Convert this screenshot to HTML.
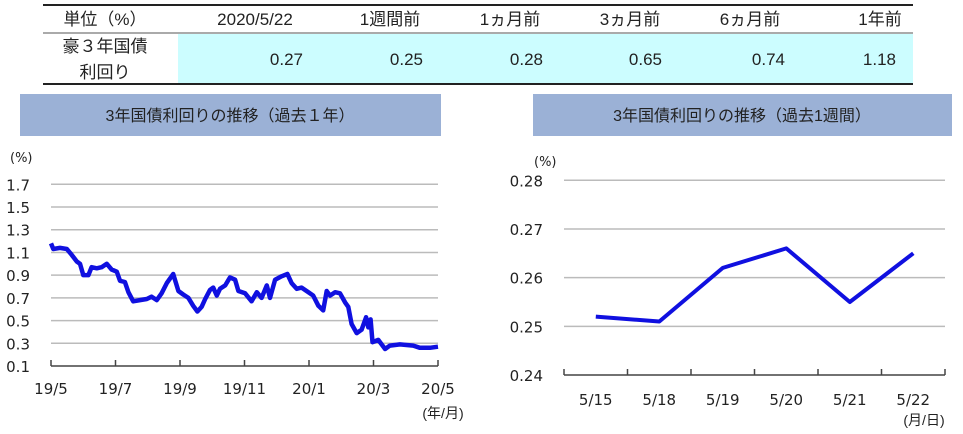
<!DOCTYPE html>
<html><head><meta charset="utf-8">
<style>
body{margin:0;width:963px;height:434px;background:#fff;overflow:hidden;font-family:"Liberation Sans","Noto Sans CJK JP",sans-serif;}
svg{position:absolute;left:0;top:0}
text{font-family:"Liberation Sans","Noto Sans CJK JP",sans-serif;fill:#222}
.v{font-family:"DejaVu Sans","Noto Sans CJK JP",sans-serif}
</style></head><body>
<svg id="s" width="963" height="434">
<g>
<rect x="178" y="34" width="735" height="49" fill="#ccfdff"/>
<line x1="43" y1="5" x2="913" y2="5" stroke="#222" stroke-width="2"/>
<line x1="43" y1="33" x2="913" y2="33" stroke="#555" stroke-width="1"/>
<line x1="43" y1="84" x2="913" y2="84" stroke="#222" stroke-width="2"/>
<g font-size="17" text-anchor="middle">
<text x="105" y="25">単位（%）</text>
<text x="255" y="25">2020/5/22</text>
<text x="390" y="25">1週間前</text>
<text x="510" y="25">1ヵ月前</text>
<text x="630" y="25">3ヵ月前</text>
<text x="750" y="25">6ヵ月前</text>
<text x="880" y="25">1年前</text>
<text x="105" y="52">豪３年国債</text>
<text x="105" y="78">利回り</text>
</g>
<g font-size="17" text-anchor="end">
<text x="303" y="65">0.27</text>
<text x="423" y="65">0.25</text>
<text x="543" y="65">0.28</text>
<text x="662" y="65">0.65</text>
<text x="785" y="65">0.74</text>
<text x="896" y="65">1.18</text>
</g>
</g>
<rect x="20" y="94" width="421" height="42" fill="#9bb1d6"/>
<text x="230" y="121" font-size="16" text-anchor="middle">3年国債利回りの推移（過去１年）</text>
<rect x="533" y="94" width="419" height="42" fill="#9bb1d6"/>
<text x="742" y="121" font-size="16" text-anchor="middle">3年国債利回りの推移（過去1週間）</text>
<g id="left"></g>
<g id="right"></g>
</svg>
<script>
// yearly chart data (months since 2019/5)
const yMonths=[0,0.07,0.28,0.49,0.64,0.80,0.90,1.0,1.16,1.26,1.42,1.57,1.73,1.88,2.04,2.14,2.29,2.40,2.55,2.76,2.97,3.12,3.28,3.43,3.59,3.69,3.79,3.95,4.10,4.26,4.41,4.54,4.67,4.78,4.93,5.03,5.14,5.24,5.40,5.55,5.71,5.81,6.02,6.22,6.38,6.53,6.69,6.79,6.95,7.15,7.33,7.46,7.62,7.77,7.98,8.13,8.29,8.44,8.55,8.65,8.81,8.96,9.12,9.22,9.32,9.48,9.63,9.77,9.84,9.91,9.97,10.15,10.36,10.51,10.82,11.23,11.44,11.75,12.0];
const yValues=[1.18,1.13,1.14,1.13,1.08,1.02,1.0,0.9,0.9,0.97,0.96,0.97,1.0,0.95,0.93,0.85,0.84,0.75,0.67,0.68,0.69,0.71,0.68,0.74,0.83,0.87,0.91,0.76,0.73,0.70,0.63,0.58,0.62,0.69,0.77,0.79,0.72,0.78,0.81,0.88,0.86,0.76,0.74,0.67,0.75,0.70,0.81,0.70,0.86,0.89,0.91,0.83,0.78,0.79,0.75,0.72,0.63,0.59,0.76,0.72,0.75,0.74,0.66,0.62,0.47,0.39,0.42,0.53,0.44,0.51,0.31,0.33,0.25,0.28,0.29,0.28,0.26,0.26,0.27];
const yTicks=[0.1,0.3,0.5,0.7,0.9,1.1,1.3,1.5,1.7];
const yMonthLabels=["19/5","19/7","19/9","19/11","20/1","20/3","20/5"];
// weekly chart data
const wDays=["5/15","5/18","5/19","5/20","5/21","5/22"];
const wValues=[0.252,0.251,0.262,0.266,0.255,0.265];
const wTicks=[0.24,0.25,0.26,0.27,0.28];
const NS="http://www.w3.org/2000/svg";
function mk(p,t,a){const e=document.createElementNS(NS,t);for(const k in a)e.setAttribute(k,a[k]);p.appendChild(e);return e;}
// left
(function(){
const g=document.getElementById('left');
const x0=51,x1=438,yTop=184.3,yBot=366;
const sx=m=>x0+(x1-x0)*m/12;
const sy=v=>yBot-(v-0.1)/(1.7-0.1)*(yBot-yTop);
yTicks.forEach(t=>{
 if(t>0.1){const l=mk(g,'line',{x1:x0,x2:x1,y1:sy(t),y2:sy(t),stroke:'#bbb','stroke-width':1.5});
 
 }
 const tx=mk(g,'text',{x:30,y:sy(t)+6,'font-size':15,'text-anchor':'end','class':'v'});tx.textContent=t.toFixed(1);
 
 
});
const ax=mk(g,'line',{x1:x0,x2:x1,y1:yBot,y2:yBot,stroke:'#444','stroke-width':1.5});


yMonthLabels.forEach((lb,i)=>{
 const x=sx(i*2);
 const tk=mk(g,'line',{x1:x,x2:x,y1:yBot-6,y2:yBot,stroke:'#444','stroke-width':1.5});
 
 
 const t=mk(g,'text',{x:x,y:394,'font-size':15,'text-anchor':'middle','class':'v'});t.textContent=lb;
 
 
});
const u=mk(g,'text',{x:10,y:162,'font-size':13,'class':'v'});u.textContent='(%)';


const u2=mk(g,'text',{x:443,y:418,'font-size':14,'text-anchor':'middle'});u2.textContent='(年/月)';


const pts=yMonths.map((m,i)=>sx(m).toFixed(1)+','+sy(yValues[i]).toFixed(1)).join(' ');
const pl=mk(g,'polyline',{points:pts,fill:'none',stroke:'#1010e0','stroke-width':4.5,'stroke-linejoin':'round'});


})();
// right
(function(){
const g=document.getElementById('right');
const x0=564,x1=945,yTop=180.3,yBot=375;
const bw=(x1-x0)/wDays.length;
const sx=i=>x0+bw*(i+0.5);
const sy=v=>yBot-(v-0.24)/(0.28-0.24)*(yBot-yTop);
wTicks.forEach(t=>{
 if(t>0.24){const l=mk(g,'line',{x1:x0,x2:x1,y1:sy(t),y2:sy(t),stroke:'#bbb','stroke-width':1.5});
 
 }
 const tx=mk(g,'text',{x:543,y:sy(t)+6,'font-size':15,'text-anchor':'end','class':'v'});tx.textContent=t.toFixed(2);
 
 
});
const ax=mk(g,'line',{x1:x0,x2:x1,y1:yBot,y2:yBot,stroke:'#444','stroke-width':1.5});


for(let i=0;i<=wDays.length;i++){
 const x=x0+bw*i;
 const tk=mk(g,'line',{x1:x,x2:x,y1:yBot-6,y2:yBot,stroke:'#444','stroke-width':1.5});
 
 
}
wDays.forEach((d,i)=>{
 const t=mk(g,'text',{x:sx(i),y:405,'font-size':15,'text-anchor':'middle','class':'v'});t.textContent=d;
 
 
});
const u=mk(g,'text',{x:534,y:166,'font-size':13,'class':'v'});u.textContent='(%)';


const u2=mk(g,'text',{x:924,y:425,'font-size':14,'text-anchor':'middle'});u2.textContent='(月/日)';


const pts=wValues.map((v,i)=>sx(i).toFixed(1)+','+sy(v).toFixed(1)).join(' ');
const pl=mk(g,'polyline',{points:pts,fill:'none',stroke:'#1010e0','stroke-width':4,'stroke-linejoin':'round'});


})();
</script>
</body></html>
